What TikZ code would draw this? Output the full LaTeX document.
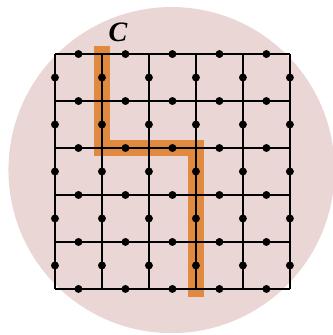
\documentclass[tikz,border=0pt]{standalone}
\usepackage{fontspec}
\newfontfamily\labelfont{Liberation Serif}
\definecolor{disc pink}{HTML}{EAD6D5}
\definecolor{cut orange}{HTML}{E08A40}
\tikzset{
  lattice/.style={line width=1pt},
  link dot/.style={circle, fill, inner sep=0pt, minimum size=4.8pt},
  cut path/.style={draw=cut orange, line width=10pt, line cap=rect, line join=miter},
}
\begin{document}
\begin{tikzpicture}[every node/.style={font=\small}]
  \useasboundingbox (-1.17,-0.98) rectangle (5.91,6.15);
  \fill[disc pink] (2.48,2.53) circle (3.47);
  % lattice sites
  \foreach \i in {0,...,5}
    \foreach \j in {0,...,5}
      \coordinate (s\i\j) at (\i,\j);
  % the cut
  \draw[cut path] (s15) -- (s13) -- (s33) -- (s30);
  % links
  \foreach \k in {0,...,5} {
    \draw[lattice] (s0\k) -- (s5\k);
    \draw[lattice] (s\k0) -- (s\k5);
  }
  \foreach \i in {0,...,4}
    \foreach \j in {0,...,5} {
      \node[link dot] at (\i+0.5,\j) {};
      \node[link dot] at (\j,\i+0.5) {};
    }
  \node[font=\labelfont\fontsize{17}{19}\selectfont\bfseries\itshape] (c) at (1.34,5.47) {C};
\end{tikzpicture}
\end{document}
